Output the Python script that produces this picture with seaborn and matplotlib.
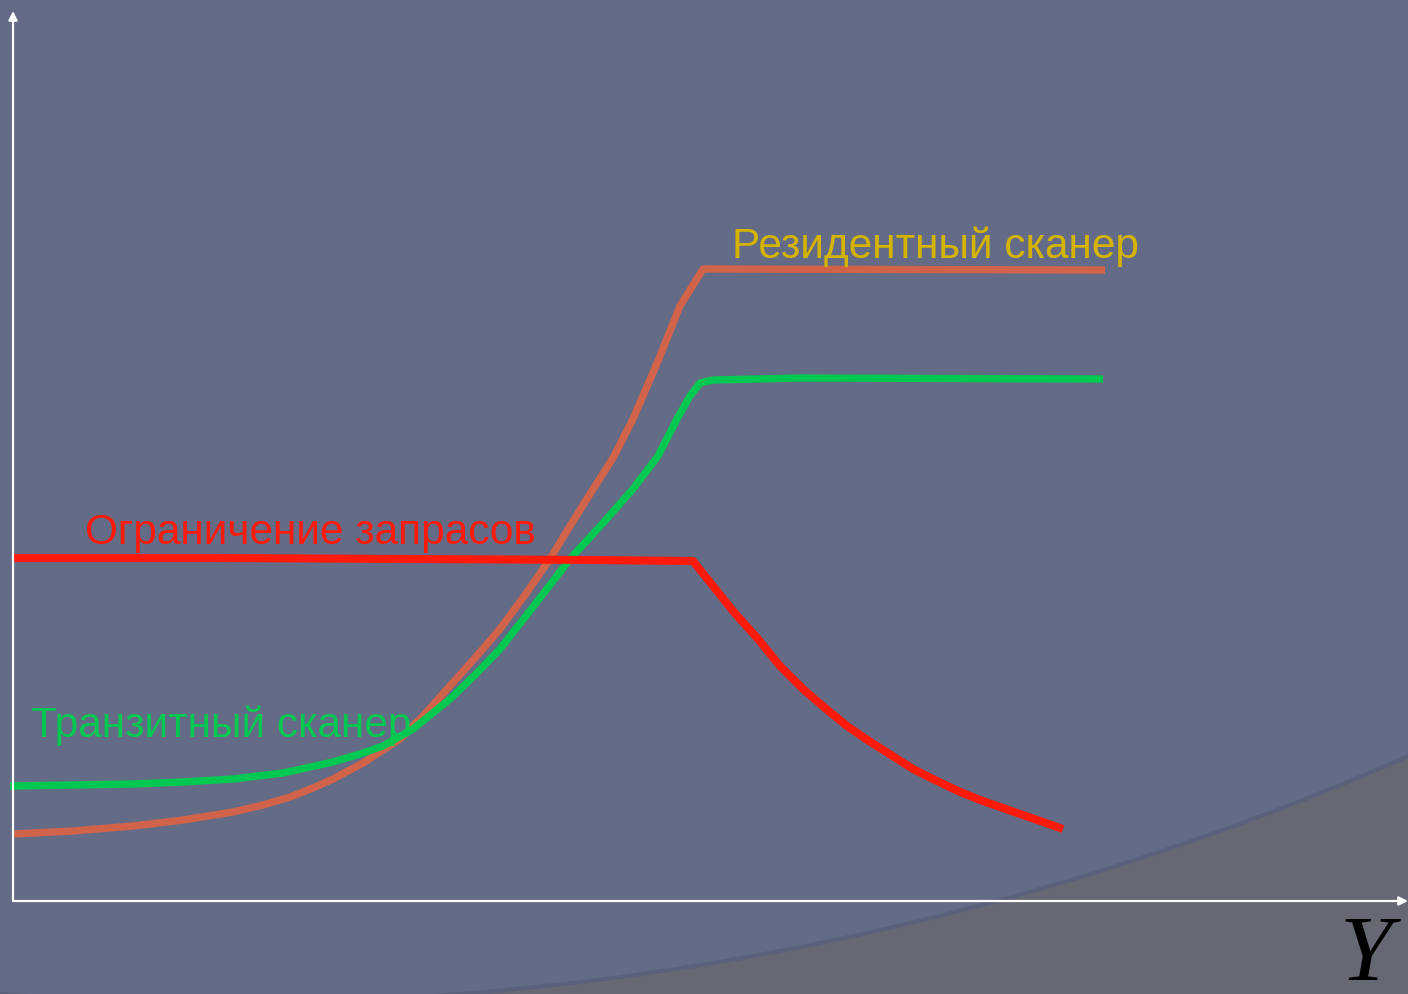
import matplotlib
matplotlib.use("Agg")
import matplotlib.pyplot as plt
from matplotlib.patches import Circle
import seaborn as sns
import pandas as pd

# values (horizontal / vertical offset from the axis origin)
res_x = [0, 60, 120, 170, 220, 250, 277, 300, 320, 350, 387, 410, 437, 462, 487, 512, 537, 557, 577, 600, 620, 645, 667, 690, 1092]
res_y = [67, 70, 75, 81, 89, 96, 104, 113, 122, 138, 162, 185, 215, 243, 272, 306, 342, 375, 407, 443, 482, 540, 595, 632, 631]

tr_x = [-3, 60, 120, 170, 220, 270, 320, 350, 370, 400, 437, 462, 487, 520, 557, 590, 620, 645, 664, 677, 687, 700, 787, 1090]
tr_y = [115, 116, 117, 119, 122, 128, 139, 148, 155, 172, 202, 226, 252, 294, 342, 378, 412, 445, 482, 505, 518, 521, 523, 522]

lim_x = [0, 200, 400, 580, 680, 700, 720, 745, 767, 790, 812, 834, 856, 878, 900, 922, 945, 967, 990, 1010, 1030, 1050]
lim_y = [343, 343, 342, 341, 340, 315, 290, 262, 235, 212, 193, 175, 160, 146, 132, 121, 110, 101, 93, 86, 79, 72]

labels = ["Резидентный сканер", "Транзитный сканер", "Ограничение запрасов"]
label_x = [719, 18, 72]
label_y = [644, 165, 358]
colors = ["#D0634A", "#00C850", "#FF1A0A"]
label_colors = ["#D4B400", "#00C850", "#FF1A0A"]

sns.set_theme(style="white")
plt.rcParams["font.family"] = ["Liberation Sans", "DejaVu Sans"]

fig = plt.figure(figsize=(14.08, 9.95), dpi=100)
fig.patch.set_facecolor("#666873")
# slide background: big blue disc, gray corner at the bottom right
fig.patches.append(Circle((2.3, 29.27), 29.36, transform=fig.dpi_scale_trans,
                          facecolor="#646B86", edgecolor="#5B617B", lw=3, zorder=-5))

ax = fig.add_axes([13 / 1408, 93 / 995, 1395 / 1408, 890 / 995])
ax.set_zorder(2)
ax.set_facecolor("none")
ax.patch.set_alpha(0)
ax.set_xlim(0, 1395)
ax.set_ylim(0, 890)

curves = [
    pd.DataFrame({"x": res_x, "y": res_y}),
    pd.DataFrame({"x": tr_x, "y": tr_y}),
    pd.DataFrame({"x": lim_x, "y": lim_y}),
]
widths = [5.3, 5.3, 5.8]
for df, c, w in zip(curves, colors, widths):
    sns.lineplot(data=df, x="x", y="y", ax=ax, color=c, linewidth=w,
                 sort=False, estimator=None)
for l in ax.lines:
    l.set_clip_on(False)
    l.set_solid_capstyle("butt")
    l.set_solid_joinstyle("round")

for t, xx, yy, c in zip(labels, label_x, label_y, label_colors):
    ax.text(xx, yy, t, color=c, fontsize=30.5, va="baseline", ha="left")

for s in ax.spines.values():
    s.set_visible(False)
ax.set_xticks([])
ax.set_yticks([])
ax.set_xlabel("")
ax.set_ylabel("")

arrow = dict(arrowstyle="-|>", color="white", lw=1.6, mutation_scale=13,
             shrinkA=0, shrinkB=0)
ax.annotate("", xy=(0, 1), xytext=(0, 0), xycoords="axes fraction", arrowprops=arrow)
ax.annotate("", xy=(1.0, 0), xytext=(0, 0), xycoords="axes fraction", arrowprops=arrow)

fig.text(1340 / 1408, 1 - 915 / 995, "Y", color="black", fontsize=68, style="italic",
         family="Liberation Serif", va="top", ha="left")

fig.savefig("out.png", dpi=100, facecolor=fig.get_facecolor())
